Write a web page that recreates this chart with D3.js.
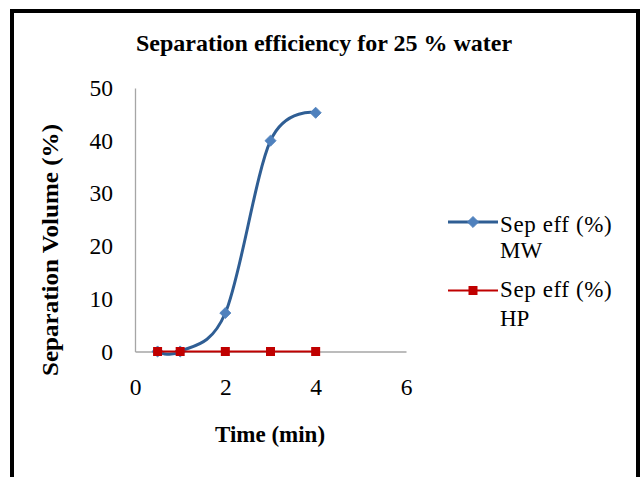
<!DOCTYPE html>
<html>
<head>
<meta charset="utf-8">
<script src="https://cdn.jsdelivr.net/npm/d3@7"></script>
<style>
  html, body { margin: 0; padding: 0; background: #fff; }
  svg { display: block; }
</style>
</head>
<body>
<svg id="chart" width="641" height="477"></svg>
<script>
// Time points (min) and separation efficiency (%) per method
const timeMin = [0.5, 1, 2, 3, 4];
const sepEffMW = [0, 0, 7.3, 40, 45.3];
const sepEffHP = [0, 0, 0, 0, 0];
const xTicks = [0, 2, 4, 6];
const yTicks = [0, 10, 20, 30, 40, 50];
const seriesNames = [["Sep eff (%)", "MW"], ["Sep eff (%)", "HP"]];

const FONT = "'Liberation Serif', 'Times New Roman', serif";
const svg = d3.select("#chart");

// outer frame
svg.append("rect")
  .attr("x", 12).attr("y", 11)
  .attr("width", 626).attr("height", 480)
  .attr("fill", "none").attr("stroke", "#000").attr("stroke-width", 4);

const x = d3.scaleLinear().domain([0, 6]).range([135, 406]);
const y = d3.scaleLinear().domain([0, 50]).range([351.5, 88]);

function label(sel, size, bold) {
  return sel.style("font-family", FONT)
    .attr("font-size", size)
    .attr("font-weight", bold ? "bold" : "normal")
    .attr("fill", "#000");
}

// title
label(svg.append("text"), 24, true)
  .attr("x", 324).attr("y", 51)
  .attr("text-anchor", "middle")
  .text("Separation efficiency for 25 % water");

// axes
const xAxis = svg.append("g").attr("transform", `translate(0,${y(0)})`)
  .call(d3.axisBottom(x).tickValues(xTicks).tickSize(0).tickPadding(27).tickFormat(d3.format("d")));
const yAxis = svg.append("g").attr("transform", `translate(${x(0)},0)`)
  .call(d3.axisLeft(y).tickValues(yTicks).tickSize(0).tickPadding(22).tickFormat(d3.format("d")));
[xAxis, yAxis].forEach(g => {
  g.select(".domain").attr("stroke", "#a6a6a6").attr("stroke-width", 1.3);
  label(g.selectAll("text"), 23.5, false);
});

// axis titles
label(svg.append("text"), 23, true)
  .attr("x", 270).attr("y", 442)
  .attr("text-anchor", "middle")
  .text("Time (min)");
label(svg.append("text"), 24, true)
  .attr("transform", "translate(58,250) rotate(-90)")
  .attr("text-anchor", "middle")
  .attr("textLength", 252)
  .attr("lengthAdjust", "spacingAndGlyphs")
  .text("Separation Volume (%)");

const blueLine = "#2F5E94", blueFill = "#4F81BD", red = "#C00000";

const line = d3.line()
  .x((d, i) => x(timeMin[i]))
  .y(d => y(d));

// MW series (smoothed)
svg.append("path")
  .attr("d", line.curve(d3.curveCardinal.tension(0))(sepEffMW))
  .attr("fill", "none").attr("stroke", blueLine).attr("stroke-width", 3);

const diamond = d3.symbol().type(d3.symbolSquare).size(62);
svg.selectAll(".mw").data(sepEffMW).join("path")
  .attr("class", "mw")
  .attr("transform", (d, i) => `translate(${x(timeMin[i])},${y(d)}) rotate(45)`)
  .attr("d", diamond)
  .attr("fill", blueFill).attr("stroke", blueFill).attr("stroke-width", 0.8);

// HP series
svg.append("path")
  .attr("d", line.curve(d3.curveLinear)(sepEffHP))
  .attr("fill", "none").attr("stroke", red).attr("stroke-width", 2.2);
svg.selectAll(".hp").data(sepEffHP).join("rect")
  .attr("class", "hp")
  .attr("x", (d, i) => x(timeMin[i]) - 4.5)
  .attr("y", d => y(d) - 4.5)
  .attr("width", 9).attr("height", 9)
  .attr("fill", red);

// legend
const legend = svg.append("g");
const legendRows = [
  { y: 222, color: blueLine, marker: "diamond", text1: 232, text2: 258 },
  { y: 290.5, color: red, marker: "square", text1: 297, text2: 326 }
];
legendRows.forEach((r, i) => {
  legend.append("line")
    .attr("x1", 448).attr("x2", 498).attr("y1", r.y).attr("y2", r.y)
    .attr("stroke", r.color).attr("stroke-width", i === 0 ? 3 : 2.2);
  if (r.marker === "diamond") {
    legend.append("path")
      .attr("transform", `translate(473,${r.y}) rotate(45)`)
      .attr("d", diamond).attr("fill", blueFill).attr("stroke", blueFill).attr("stroke-width", 0.8);
  } else {
    legend.append("rect")
      .attr("x", 468.5).attr("y", r.y - 4.5).attr("width", 9).attr("height", 9)
      .attr("fill", red);
  }
  label(legend.append("text"), 23, false).attr("x", 500).attr("y", r.text1)
    .attr("letter-spacing", 0.6).text(seriesNames[i][0]);
  label(legend.append("text"), 23, false).attr("x", 500).attr("y", r.text2).text(seriesNames[i][1]);
});
</script>
</body>
</html>
